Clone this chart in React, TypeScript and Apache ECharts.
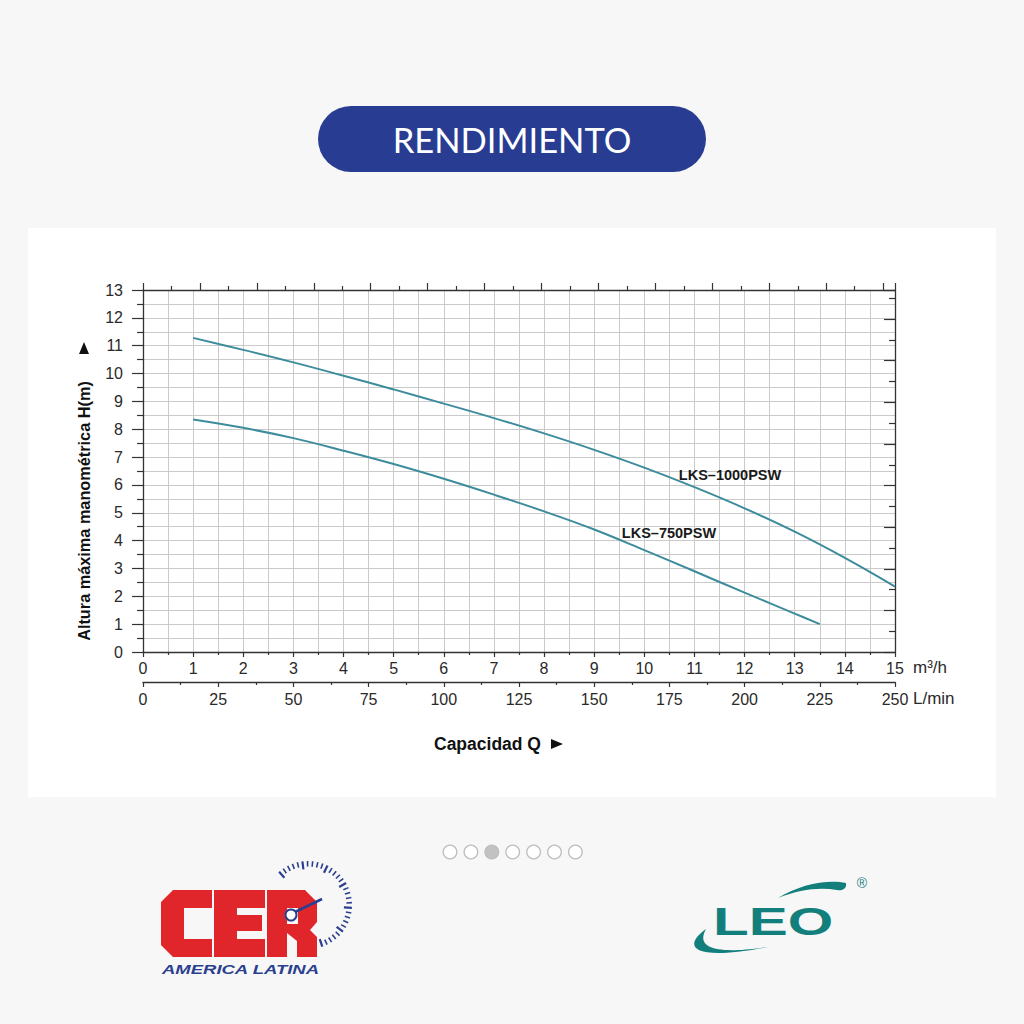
import React, { useEffect, useRef } from "react";
import * as echarts from "echarts";

// ---- Data ----
const flowMax_m3h = 15;
const flowMax_Lmin = 250;
const flowMax_gpm = 66.04;
const headMax_m = 13;
const headMax_ft = 43.5;

const lks1000Q = [1, 2, 3, 4, 5, 6, 7, 8, 9, 10, 11, 12, 13, 14, 15];
const lks1000H = [11.28, 10.85, 10.4, 9.92, 9.43, 8.92, 8.4, 7.85, 7.26, 6.62, 5.92, 5.16, 4.32, 3.38, 2.35];

const lks750Q = [1, 2, 3, 4, 5, 6, 7, 8, 9, 10, 11, 12, 13, 13.5];
const lks750H = [8.35, 8.05, 7.68, 7.23, 6.75, 6.22, 5.65, 5.05, 4.4, 3.66, 2.9, 2.13, 1.38, 1.0];

const seriesNames = ["LKS\u20131000PSW", "LKS\u2013750PSW"];
const pagerDots = [0, 1, 2, 3, 4, 5, 6];
const activeDot = 2;

// ---- Logo shapes ----
const swooshTopD =
  "M 778 898 C 800 884 828 879 846 883 C 847 889 842 891 837 890 C 820 887 800 889 778 898 Z";
const swooshBottomD =
  "M 706 929 C 682 946 690 963 773 946 C 712 956 696 947 706 929 Z";
echarts.graphic.registerShape("leoSwooshTop", echarts.graphic.extendPath(swooshTopD, {}));
echarts.graphic.registerShape("leoSwooshBottom", echarts.graphic.extendPath(swooshBottomD, {}));

const AXIS = "#333333";
const GRIDC = "#cacaca";
const CURVE = "#3d8c9c";
const LABEL = "#2a2a2a";
const FONT = "'Liberation Sans', Arial, sans-serif";

function buildGraphic() {
  const els: any[] = [];
  // Title pill
  els.push({
    type: "rect",
    shape: { x: 318, y: 106, width: 388, height: 66, r: 33 },
    style: { fill: "#283c92" },
  });
  els.push({
    type: "text",
    x: 512,
    y: 139,
    style: {
      text: "RENDIMIENTO",
      fill: "#ffffff",
      font: "34.5px Lato, 'Open Sans', sans-serif",
      textAlign: "center",
      textVerticalAlign: "middle",
    },
  });
  // Y axis title
  els.push({
    type: "text",
    x: 84,
    y: 511,
    rotation: Math.PI / 2,
    style: {
      text: "Altura máxima manométrica H(m)",
      fill: "#111",
      font: "bold 16.3px " + FONT,
      textAlign: "center",
      textVerticalAlign: "middle",
    },
  });
  els.push({
    type: "polygon",
    shape: { points: [[79, 354], [89, 354], [84, 342]] },
    style: { fill: "#111" },
  });
  // X axis title
  els.push({
    type: "text",
    x: 434,
    y: 744,
    style: {
      text: "Capacidad Q",
      fill: "#111",
      font: "bold 17.5px " + FONT,
      textAlign: "left",
      textVerticalAlign: "middle",
    },
  });
  els.push({
    type: "polygon",
    shape: { points: [[551, 739], [551, 749], [563, 744]] },
    style: { fill: "#111" },
  });
  // Unit names
  els.push({
    type: "text",
    x: 913,
    y: 667,
    style: { text: "m³/h", fill: LABEL, font: "17px " + FONT, textAlign: "left", textVerticalAlign: "middle" },
  });
  els.push({
    type: "text",
    x: 913,
    y: 698,
    style: { text: "L/min", fill: LABEL, font: "17px " + FONT, textAlign: "left", textVerticalAlign: "middle" },
  });
  // Curve labels
  els.push({
    type: "text",
    z: 100,
    x: 730,
    y: 475,
    style: { text: seriesNames[0], fill: "#1a1a1a", font: "bold 14.5px " + FONT, textAlign: "center", textVerticalAlign: "middle" },
  });
  els.push({
    type: "text",
    z: 100,
    x: 669,
    y: 533,
    style: { text: seriesNames[1], fill: "#1a1a1a", font: "bold 14.5px " + FONT, textAlign: "center", textVerticalAlign: "middle" },
  });
  // Pager dots
  pagerDots.forEach((d, i) => {
    els.push({
      type: "circle",
      shape: { cx: 450 + i * 20.9, cy: 852, r: 6.8 },
      style: { fill: d === activeDot ? "#c2c2c2" : "#ffffff", stroke: "#bdbdbd", lineWidth: 1.3 },
    });
  });
  // CER logo
  const red = "#e1262b";
  const blue = "#2b3f8f";
  els.push({
    type: "polygon",
    shape: { points: [[173, 890], [212, 890], [212, 908], [184, 908], [184, 939], [212, 939], [212, 957], [173, 957], [161, 945], [161, 902]] },
    style: { fill: red },
  });
  els.push({
    type: "polygon",
    shape: { points: [[214, 890], [265, 890], [265, 908], [237, 908], [237, 915], [262, 915], [262, 931], [237, 931], [237, 939], [265, 939], [265, 957], [214, 957]] },
    style: { fill: red },
  });
  els.push({
    type: "polygon",
    shape: { points: [[267, 890], [305, 890], [317, 902], [317, 922], [310, 930], [317, 937], [317, 957], [297, 957], [297, 941], [287, 933], [287, 957], [267, 957]] },
    style: { fill: red },
  });
  els.push({
    type: "rect",
    shape: { x: 287, y: 908, width: 11, height: 16 },
    style: { fill: "#f7f7f7" },
  });
  // gauge dashes
  const gcx = 308, gcy = 905;
  const nD = 31;
  for (let i = 0; i < nD; i++) {
    const a = ((-131 + (202 * i) / (nD - 1)) * Math.PI) / 180;
    const major = i % 5 === 0;
    const r1 = major ? 36 : 38.5;
    const r2 = 44;
    els.push({
      type: "line",
      shape: { x1: gcx + r1 * Math.cos(a), y1: gcy + r1 * Math.sin(a), x2: gcx + r2 * Math.cos(a), y2: gcy + r2 * Math.sin(a) },
      style: { stroke: blue, lineWidth: major ? 2.2 : 1.6 },
    });
  }
  els.push({
    type: "line",
    shape: { x1: 293, y1: 913, x2: 322, y2: 899 },
    style: { stroke: blue, lineWidth: 2.6 },
  });
  els.push({
    type: "circle",
    shape: { cx: 291, cy: 915, r: 5.5 },
    style: { fill: "#ffffff", stroke: blue, lineWidth: 2 },
  });
  els.push({
    type: "text",
    x: 162,
    y: 970,
    scaleX: 1.48,
    style: { text: "AMERICA LATINA", fill: blue, font: "italic bold 12.5px " + FONT, textAlign: "left", textVerticalAlign: "middle" },
  });
  // LEO logo
  const teal = "#137f7c";
  els.push({ type: "leoSwooshTop", style: { fill: teal } });
  els.push({ type: "leoSwooshBottom", style: { fill: teal } });
  els.push({
    type: "text",
    x: 713,
    y: 922,
    scaleX: 1.5,
    style: { text: "LEO", fill: teal, font: "bold 39px " + FONT, textAlign: "left", textVerticalAlign: "middle" },
  });
  els.push({
    type: "text",
    x: 862,
    y: 883,
    style: { text: "®", fill: teal, font: "14px " + FONT, textAlign: "center", textVerticalAlign: "middle" },
  });
  return els;
}

export default function App() {
  const ref = useRef<HTMLDivElement>(null);
  useEffect(() => {
    if (!ref.current) return;
    const chart = echarts.init(ref.current, undefined, { renderer: "svg" });
    const lineAxis = { lineStyle: { color: AXIS, width: 1.3 } };
    const tickStyle = { color: AXIS, width: 1.2 };
    const gridLine = { show: true, lineStyle: { color: GRIDC, width: 1 } };
    chart.setOption({
      animation: false,
      backgroundColor: "transparent",
      grid: { left: 143, right: 129, top: 290, bottom: 372 },
      xAxis: [
        {
          type: "value",
          position: "bottom",
          min: 0,
          max: flowMax_m3h,
          interval: 1,
          axisLine: { show: true, onZero: false, ...lineAxis },
          axisTick: { show: true, length: 5, lineStyle: tickStyle },
          minorTick: { show: true, splitNumber: 2, length: 3, lineStyle: tickStyle },
          splitLine: gridLine,
          minorSplitLine: gridLine,
          axisLabel: { margin: 8, fontSize: 16, color: LABEL, fontFamily: FONT },
        },
        {
          type: "value",
          position: "bottom",
          offset: 30,
          min: 0,
          max: flowMax_Lmin,
          interval: 25,
          axisLine: { show: true, onZero: false, ...lineAxis },
          axisTick: { show: true, length: 5, lineStyle: tickStyle },
          minorTick: { show: true, splitNumber: 2, length: 3, lineStyle: tickStyle },
          splitLine: { show: false },
          axisLabel: { margin: 9, fontSize: 16, color: LABEL, fontFamily: FONT },
        },
        {
          type: "value",
          position: "top",
          min: 0,
          max: flowMax_gpm,
          interval: 5,
          axisLine: { show: true, onZero: false, ...lineAxis },
          axisTick: { show: true, length: 7, lineStyle: tickStyle },
          minorTick: { show: true, splitNumber: 2, length: 4, lineStyle: tickStyle },
          splitLine: { show: false },
          axisLabel: { show: false },
        },
      ],
      yAxis: [
        {
          type: "value",
          position: "left",
          min: 0,
          max: headMax_m,
          interval: 1,
          axisLine: { show: true, onZero: false, ...lineAxis },
          axisTick: { show: true, length: 11, lineStyle: tickStyle },
          minorTick: { show: true, splitNumber: 2, length: 6, lineStyle: tickStyle },
          splitLine: gridLine,
          minorSplitLine: gridLine,
          axisLabel: { margin: 20, fontSize: 16, color: LABEL, fontFamily: FONT },
        },
        {
          type: "value",
          position: "right",
          min: 0,
          max: headMax_ft,
          interval: 5,
          axisLine: { show: true, onZero: false, ...lineAxis },
          axisTick: { show: true, inside: true, length: 11, lineStyle: tickStyle },
          minorTick: { show: true, splitNumber: 2, length: 6, lineStyle: tickStyle },
          splitLine: { show: false },
          axisLabel: { show: false },
        },
      ],
      series: [
        {
          name: seriesNames[0],
          type: "line",
          xAxisIndex: 0,
          yAxisIndex: 0,
          data: lks1000Q.map((q, i) => [q, lks1000H[i]]),
          smooth: 0.4,
          showSymbol: false,
          lineStyle: { color: CURVE, width: 2 },
          z: 5,
        },
        {
          name: seriesNames[1],
          type: "line",
          xAxisIndex: 0,
          yAxisIndex: 0,
          data: lks750Q.map((q, i) => [q, lks750H[i]]),
          smooth: 0.4,
          showSymbol: false,
          lineStyle: { color: CURVE, width: 2 },
          z: 5,
        },
      ],
      graphic: buildGraphic(),
    });
    return () => chart.dispose();
  }, []);
  return (
    <div style={{ position: "absolute", left: 0, top: 0, width: 1024, height: 1024, background: "#f7f7f7" }}>
      <div style={{ position: "absolute", left: 28, top: 228, width: 968, height: 569, background: "#ffffff" }} />
      <div ref={ref} style={{ position: "absolute", left: 0, top: 0, width: 1024, height: 1024 }} />
    </div>
  );
}
